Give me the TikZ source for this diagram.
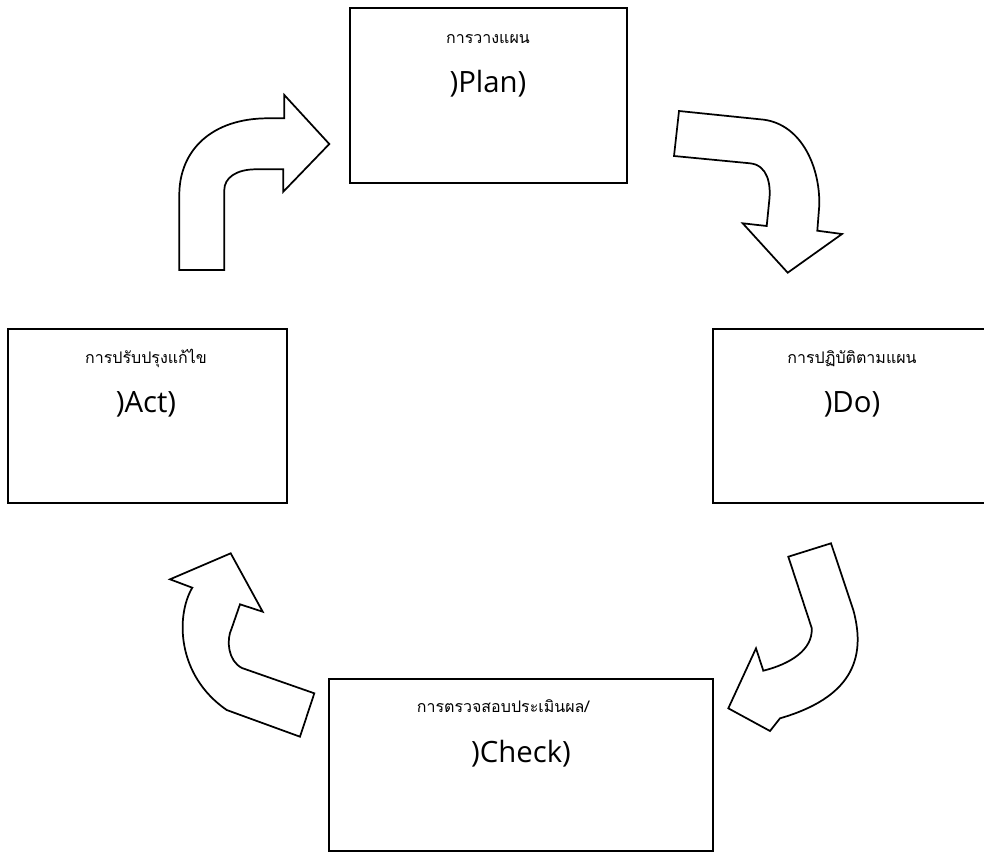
\documentclass[tikz,border=0pt]{standalone}
\usepackage{fontspec}
\setmainfont{Open Sans}
\newfontfamily\thaifont[Script=Thai]{Loma}
\usetikzlibrary{fit}
\begin{document}
\begin{tikzpicture}[x=0.75pt,y=-0.75pt,
  stagebox/.style={draw, line width=1.5pt, inner sep=0pt},
  thailabel/.style={anchor=base, inner sep=0pt, font=\thaifont\fontsize{12}{14}\selectfont},
  mainlabel/.style={anchor=base, inner sep=0pt, font=\fontsize{22}{26}\selectfont},
  blockarrow/.style={draw, line width=1.3pt, line join=miter, fill=white}]
\useasboundingbox (0,0) rectangle (984,853);

% the four stages of the cycle
\node[stagebox, fit={(350,8) (627,183)}] (plan) {};
\node[stagebox, fit={(713,329) (991,503)}] (do) {};
\node[stagebox, fit={(329,679) (713,851)}] (check) {};
\node[stagebox, fit={(8,329) (287,503)}] (act) {};

\node[thailabel] (planth) at (488,43) {การวางแผน};
\node[mainlabel] (planen) at (488,92) {)Plan)};
\node[thailabel] (doth) at (852,363) {การปฏิบัติตามแผน};
\node[mainlabel] (doen) at (852,412) {)Do)};
\node[thailabel] (checkth) at (503,712) {การตรวจสอบประเมินผล/};
\node[mainlabel] (checken) at (521,762) {)Check)};
\node[thailabel] (actth) at (146,363) {การปรับปรุงแก้ไข};
\node[mainlabel] (acten) at (146,412) {)Act)};

% curved block arrows between the stages
% act -> plan
\draw[blockarrow] (179.3,270) -- (224.3,270) -- (224.3,190)
  .. controls (224.3,178) and (236,169.3) .. (256,169.3)
  -- (283.3,169.3) -- (283.3,191.7) -- (329.3,144) -- (284.3,95)
  -- (284.3,118.3) -- (268,118.3)
  .. controls (212,118.3) and (179.3,150) .. (179.3,195) -- cycle;

% plan -> do
\draw[blockarrow] (679,111) -- (674,156) -- (750,163.3)
  .. controls (768,165) and (771,185) .. (769.3,200)
  -- (766.7,226) -- (742.7,223.3) -- (787.7,272.7) -- (842,234)
  -- (817.3,230.7) -- (819.3,205)
  .. controls (820,165) and (800,122) .. (760,119.3) -- cycle;

% do -> check
\draw[blockarrow] (788.3,556.7) -- (831,543.3) -- (853.3,610)
  .. controls (867,660) and (850,698) .. (780,718.3)
  -- (770,731) -- (728.3,708.3) -- (756,648.3) -- (763.3,670.7)
  .. controls (790,664) and (813,650) .. (811.7,628) -- cycle;

% check -> act
\draw[blockarrow] (300,736.7) -- (314.3,693.3) -- (242,668)
  .. controls (228,661) and (226,640) .. (231.7,628.3)
  -- (240,604.3) -- (262.7,611.7) -- (230.7,553.3) -- (170,579.3)
  -- (192.3,587.7)
  .. controls (176,615) and (176,675) .. (226.7,710) -- cycle;
\end{tikzpicture}
\end{document}
